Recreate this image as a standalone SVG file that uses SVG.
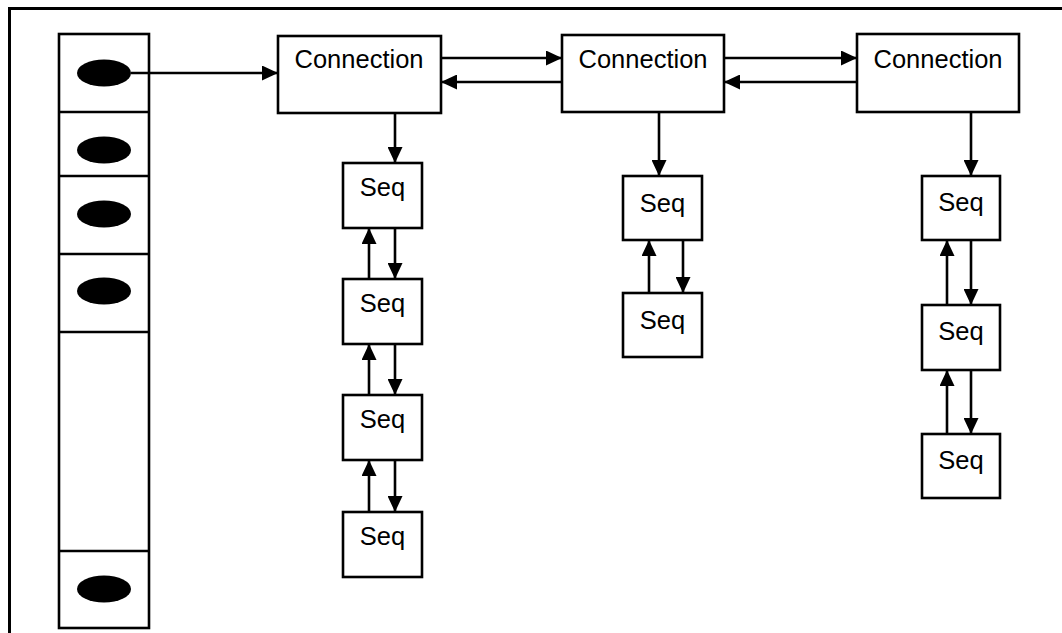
<svg xmlns="http://www.w3.org/2000/svg" width="1062" height="633" viewBox="0 0 1062 633">
<style>
.box{fill:#fff;stroke:#000;stroke-width:2.6}
.lbl{font-family:"Liberation Sans",Arial,sans-serif;font-size:25.5px;fill:#000;text-anchor:middle}
.ln{stroke:#000;stroke-width:2.6;fill:none}
.dot{fill:#000}
</style>
<defs>
<marker id="ah" markerWidth="16" markerHeight="15" refX="16" refY="7.5" orient="auto" markerUnits="userSpaceOnUse">
<path d="M0,0 L16,7.5 L0,15 Z" fill="#000"/>
</marker>
</defs>
<rect width="1062" height="633" fill="#fff"/>
<rect x="9.5" y="8.5" width="1100" height="700" fill="none" stroke="#000" stroke-width="3"/>
<g id="table">
<rect class="box" x="59" y="34" width="90" height="594"/>
<line class="ln" x1="59" y1="112" x2="149" y2="112"/>
<line class="ln" x1="59" y1="176" x2="149" y2="176"/>
<line class="ln" x1="59" y1="254" x2="149" y2="254"/>
<line class="ln" x1="59" y1="332" x2="149" y2="332"/>
<line class="ln" x1="59" y1="551" x2="149" y2="551"/>
<ellipse class="dot" cx="104" cy="73" rx="27" ry="13.5"/>
<ellipse class="dot" cx="104" cy="150" rx="27" ry="13.5"/>
<ellipse class="dot" cx="104" cy="214" rx="27" ry="13.5"/>
<ellipse class="dot" cx="104" cy="291" rx="27" ry="13.5"/>
<ellipse class="dot" cx="104" cy="589" rx="27" ry="13.5"/>
</g>
<g id="conn1"><rect class="box" x="278" y="36" width="163" height="77"/><text class="lbl" x="359" y="68">Connection</text></g>
<g id="conn2"><rect class="box" x="562" y="35" width="162" height="77"/><text class="lbl" x="643" y="68">Connection</text></g>
<g id="conn3"><rect class="box" x="857" y="34" width="162" height="78"/><text class="lbl" x="938" y="68">Connection</text></g>
<g id="seq1a"><rect class="box" x="343" y="163" width="79" height="65"/><text class="lbl" x="382.5" y="196">Seq</text></g>
<g id="seq1b"><rect class="box" x="343" y="279" width="79" height="65"/><text class="lbl" x="382.5" y="312">Seq</text></g>
<g id="seq1c"><rect class="box" x="343" y="395" width="79" height="65"/><text class="lbl" x="382.5" y="428">Seq</text></g>
<g id="seq1d"><rect class="box" x="343" y="512" width="79" height="65"/><text class="lbl" x="382.5" y="545">Seq</text></g>
<g id="seq2a"><rect class="box" x="623" y="176" width="79" height="64"/><text class="lbl" x="662.5" y="212">Seq</text></g>
<g id="seq2b"><rect class="box" x="623" y="293" width="79" height="64"/><text class="lbl" x="662.5" y="329">Seq</text></g>
<g id="seq3a"><rect class="box" x="922" y="176" width="78" height="64"/><text class="lbl" x="961" y="211">Seq</text></g>
<g id="seq3b"><rect class="box" x="922" y="305" width="78" height="65"/><text class="lbl" x="961" y="340">Seq</text></g>
<g id="seq3c"><rect class="box" x="922" y="434" width="78" height="64"/><text class="lbl" x="961" y="469">Seq</text></g>
<g id="connectors">
<line class="ln" x1="131" y1="73" x2="278" y2="73" marker-end="url(#ah)"/>
<line class="ln" x1="441" y1="58" x2="562" y2="58" marker-end="url(#ah)"/>
<line class="ln" x1="562" y1="82" x2="441" y2="82" marker-end="url(#ah)"/>
<line class="ln" x1="724" y1="58" x2="857" y2="58" marker-end="url(#ah)"/>
<line class="ln" x1="857" y1="82" x2="724" y2="82" marker-end="url(#ah)"/>
<line class="ln" x1="395" y1="113" x2="395" y2="163" marker-end="url(#ah)"/>
<line class="ln" x1="395" y1="228" x2="395" y2="279" marker-end="url(#ah)"/>
<line class="ln" x1="369" y1="279" x2="369" y2="228" marker-end="url(#ah)"/>
<line class="ln" x1="395" y1="344" x2="395" y2="395" marker-end="url(#ah)"/>
<line class="ln" x1="369" y1="395" x2="369" y2="344" marker-end="url(#ah)"/>
<line class="ln" x1="395" y1="460" x2="395" y2="512" marker-end="url(#ah)"/>
<line class="ln" x1="369" y1="512" x2="369" y2="460" marker-end="url(#ah)"/>
<line class="ln" x1="659" y1="112" x2="659" y2="176" marker-end="url(#ah)"/>
<line class="ln" x1="683" y1="240" x2="683" y2="293" marker-end="url(#ah)"/>
<line class="ln" x1="649" y1="293" x2="649" y2="240" marker-end="url(#ah)"/>
<line class="ln" x1="971" y1="112" x2="971" y2="176" marker-end="url(#ah)"/>
<line class="ln" x1="971" y1="240" x2="971" y2="305" marker-end="url(#ah)"/>
<line class="ln" x1="947" y1="305" x2="947" y2="240" marker-end="url(#ah)"/>
<line class="ln" x1="971" y1="370" x2="971" y2="434" marker-end="url(#ah)"/>
<line class="ln" x1="947" y1="434" x2="947" y2="370" marker-end="url(#ah)"/>
</g>
</svg>
